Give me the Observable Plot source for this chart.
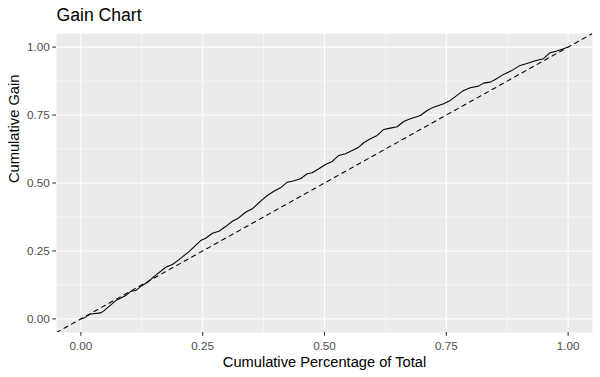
<!DOCTYPE html>
<html>
<head>
<meta charset="utf-8">
<script src="https://cdn.jsdelivr.net/npm/d3@7"></script>
<script src="https://cdn.jsdelivr.net/npm/@observablehq/plot@0.6"></script>
<style>
  html, body { margin: 0; padding: 0; background: white; }
  #wrap { position: relative; width: 600px; height: 377px; font-family: "Liberation Sans", Arial, sans-serif; }
  #title { position: absolute; left: 56.5px; top: 7px; font-size: 17.6px; line-height: 17.6px; color: #000; white-space: nowrap; }
  #chart svg { display: block; }
</style>
</head>
<body>
<div id="wrap">
  <div id="chart"></div>
  <div id="title">Gain Chart</div>
</div>
<script>
// Cumulative percentage of total (x) and cumulative gain (y)
const gainX = [0, 0.0068, 0.0205, 0.041, 0.0477, 0.0717, 0.0922, 0.1025, 0.1127, 0.123, 0.1367, 0.150, 0.1742, 0.1879, 0.2014, 0.2219, 0.2459, 0.2561,
  0.2699, 0.2834, 0.2971, 0.3109, 0.3211, 0.3381, 0.3518, 0.3689, 0.3826, 0.3961, 0.4098, 0.4236, 0.4338, 0.4508, 0.4645, 0.4748, 0.4883, 0.502,
  0.5158, 0.5293, 0.543, 0.5568, 0.5703, 0.5805, 0.5943, 0.608, 0.6215, 0.6352, 0.649, 0.6625, 0.6762, 0.6967, 0.7105, 0.724, 0.7445, 0.7582,
  0.7719, 0.7855, 0.7992, 0.8162, 0.8264, 0.8402, 0.8504, 0.8674, 0.8846, 0.9016, 0.9186, 0.9324, 0.9494, 0.9631, 0.9768, 0.9904, 1.0];
const gainY = [0, 0.0037, 0.0184, 0.0221, 0.0306, 0.0674, 0.0858, 0.1016, 0.1042, 0.120, 0.1348, 0.1557, 0.190, 0.200, 0.2183, 0.2478, 0.2883, 0.2968,
  0.3152, 0.3225, 0.3398, 0.3594, 0.3682, 0.3925, 0.405, 0.433, 0.454, 0.4698, 0.4823, 0.503, 0.5066, 0.5155, 0.5339, 0.5376, 0.5523, 0.5681,
  0.5792, 0.6013, 0.6075, 0.6197, 0.6318, 0.648, 0.6627, 0.6749, 0.697, 0.7018, 0.7069, 0.7264, 0.7364, 0.7485, 0.7669, 0.7791, 0.7916, 0.8038,
  0.8222, 0.8406, 0.8505, 0.8564, 0.8675, 0.8711, 0.881, 0.8995, 0.9142, 0.9326, 0.9411, 0.95, 0.9573, 0.9794, 0.9853, 0.9941, 1.0];

const majorTicks = [0, 0.25, 0.5, 0.75, 1];
const minorTicks = [0.125, 0.375, 0.625, 0.875];
const tickLabels = ["0.00", "0.25", "0.50", "0.75", "1.00"];
const scaleDomain = [-0.05, 1.05];
const xTitle = "Cumulative Percentage of Total";
const yTitle = "Cumulative Gain";

const gain = gainX.map((x, i) => ({x, y: gainY[i]}));
const fmt = d => tickLabels[majorTicks.indexOf(d)];

const plot = Plot.plot({
  width: 600,
  height: 377,
  marginLeft: 56,
  marginRight: 8,
  marginTop: 33,
  marginBottom: 45,
  style: {fontFamily: "'Liberation Sans', Arial, sans-serif", fontSize: "11.7px", background: "white", overflow: "visible"},
  x: {domain: scaleDomain, ticks: majorTicks},
  y: {domain: scaleDomain, ticks: majorTicks},
  marks: [
    Plot.frame({fill: "#EBEBEB", stroke: null}),
    Plot.gridX(minorTicks, {stroke: "white", strokeOpacity: 1, strokeWidth: 0.53}),
    Plot.gridY(minorTicks, {stroke: "white", strokeOpacity: 1, strokeWidth: 0.53}),
    Plot.gridX(majorTicks, {stroke: "white", strokeOpacity: 1, strokeWidth: 1.07}),
    Plot.gridY(majorTicks, {stroke: "white", strokeOpacity: 1, strokeWidth: 1.07}),
    Plot.axisX(majorTicks, {tickSize: 3.7, tickPadding: 5, stroke: "#333333", strokeWidth: 1.07, fill: "#4D4D4D", tickFormat: fmt, label: null}),
    Plot.axisY(majorTicks, {tickSize: 3.7, tickPadding: 3, stroke: "#333333", strokeWidth: 1.07, fill: "#4D4D4D", tickFormat: fmt, label: null}),
    Plot.line(scaleDomain, {x: d => d, y: d => d, stroke: "black", strokeWidth: 1.07, strokeDasharray: "4.3,4.3", clip: true}),
    Plot.line(gain, {x: "x", y: "y", stroke: "black", strokeWidth: 1.07, clip: true}),
    Plot.text([xTitle], {text: d => d, frameAnchor: "bottom", lineAnchor: "bottom", dy: 34.7, fontSize: 14.67, fill: "black"}),
    Plot.text([yTitle], {text: d => d, frameAnchor: "left", rotate: -90, dx: -42, fontSize: 14.67, fill: "black"})
  ]
});
document.getElementById("chart").appendChild(plot);
</script>
</body>
</html>
